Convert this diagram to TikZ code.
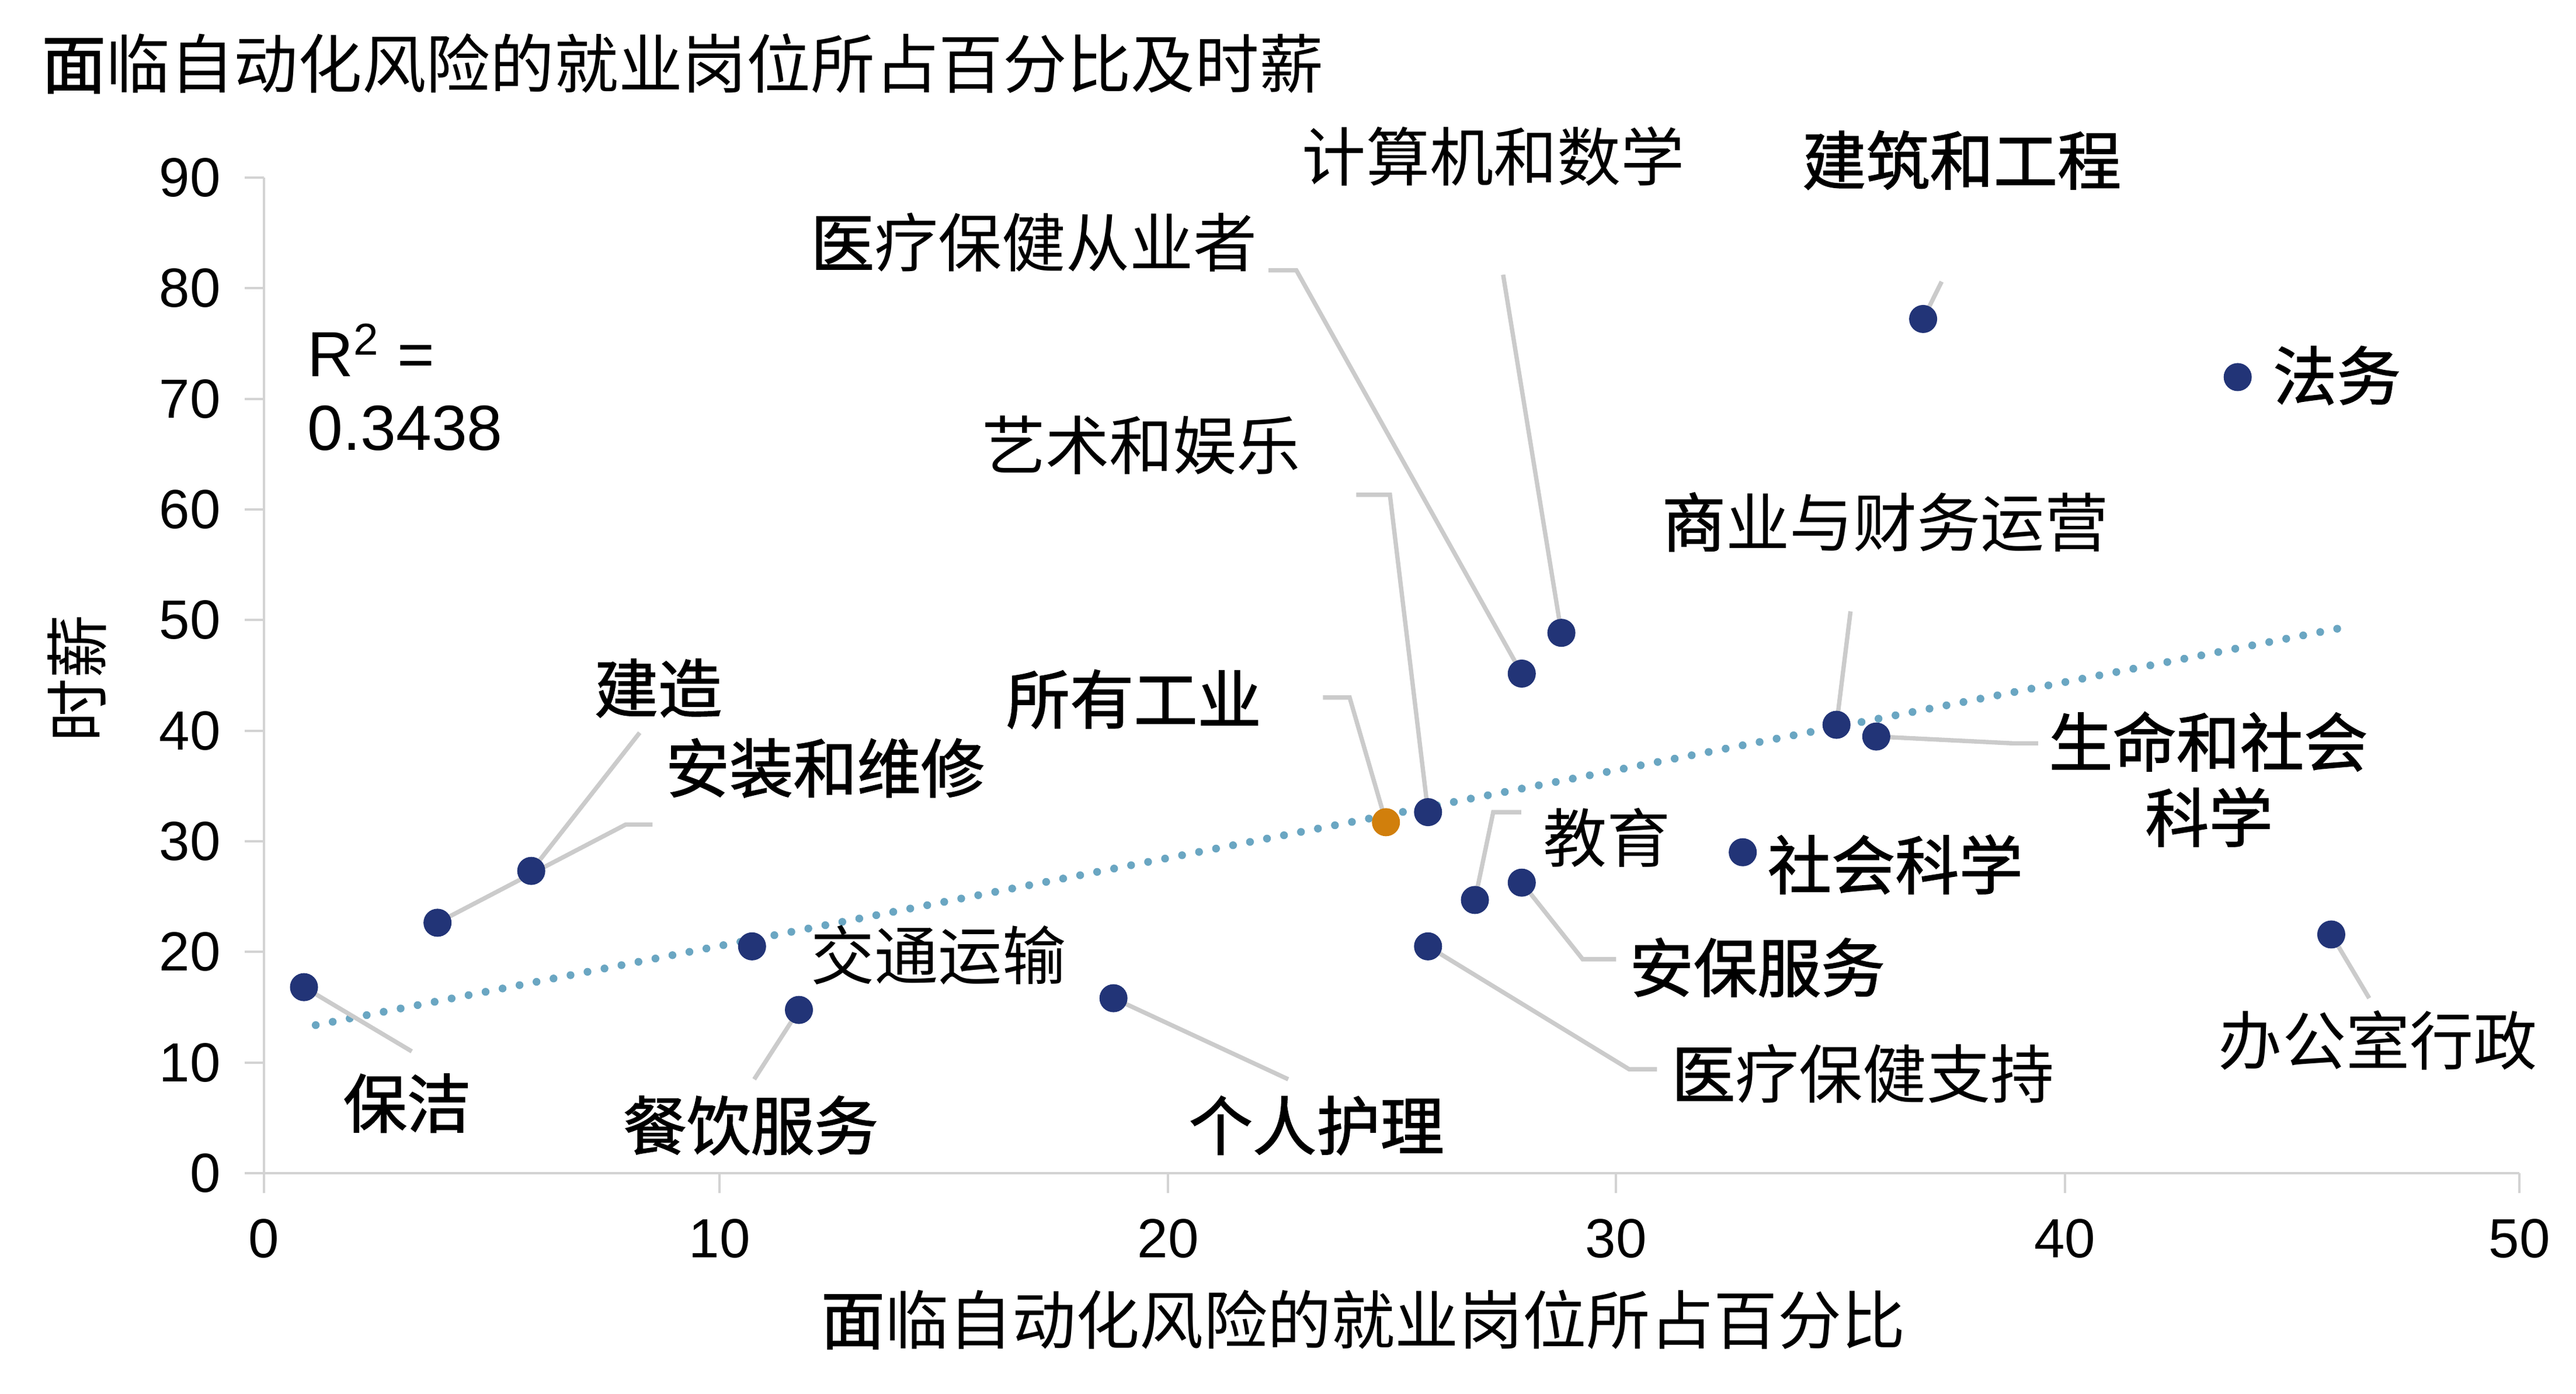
\documentclass[tikz,border=0pt]{standalone}
\usepackage{fontspec}
\setmainfont{Liberation Sans}
\newfontfamily\cjk{Noto Sans CJK SC}
\newfontfamily\cjkb[FakeBold=1.5]{Noto Sans CJK SC}
\definecolor{ptblue}{HTML}{223477}
\definecolor{ptorange}{HTML}{D17F0C}
\definecolor{trendblue}{HTML}{6AA6C2}
\definecolor{leadgray}{HTML}{CBCBCB}
\definecolor{axisgray}{HTML}{D3D3D3}
\tikzset{
  dotpt/.style={circle, fill=ptblue, minimum size=0.34cm, inner sep=0pt},
  dotall/.style={circle, fill=ptorange, minimum size=0.34cm, inner sep=0pt},
  lead/.style={draw=leadgray, line width=1.5pt},
  axisline/.style={draw=axisgray, line width=0.8pt},
  lab/.style={font=\cjk\fontsize{22}{26}\selectfont, inner sep=0pt},
  labb/.style={font=\cjkb\fontsize{22}{26}\selectfont, inner sep=0pt},
  tick/.style={font=\fontsize{19}{22}\selectfont, inner sep=0pt},
  trend/.style={draw=trendblue, line width=2.7pt, line cap=round, dash pattern=on 0pt off 5.97pt}
}
\begin{document}
\begin{tikzpicture}[x=0.02cm,y=-0.02cm]
\useasboundingbox (0,0) rectangle (1560.9,844.3);

% title
\node[lab, font=\cjk\fontsize{22.1}{26}\selectfont, anchor=west] (title) at (25,38.6) {{\cjkb 面}临自动化风险的就业岗位所占百分比及时薪};

% axes
\coordinate (yt) at (159.8,107.6);
\coordinate (o) at (159.8,710.6);
\coordinate (xr) at (1526.7,710.6);
\draw[axisline] (yt) -- (o) -- (xr);
\foreach \v [count=\i from 0] in {0,10,20,30,40,50,60,70,80,90}{
  \coordinate (yk\i) at (159.8,710.6-6.7*\v);
  \coordinate (yl\i) at (148.3,710.6-6.7*\v);
  \draw[axisline] (yl\i) -- (yk\i);
  \node[tick, anchor=east] (ytl\i) at (134,710.6-6.7*\v) {\v};
}
\foreach \xx/\v [count=\i] in {159.8/0,436.0/10,707.8/20,979.3/30,1251.1/40,1526.7/50}{
  \coordinate (xk\i) at (\xx,710.6);
  \coordinate (xb\i) at (\xx,722.5);
  \draw[axisline] (xk\i) -- (xb\i);
  \node[tick] (xtl\i) at (\xx,750.3) {\v};
}
\node[lab, rotate=90] (ylab) at (46.7,410.9) {时薪};
\node[lab] (xlab) at (826,799.3) {{\cjkb 面}临自动化风险的就业岗位所占百分比};

% R^2
\node[inner sep=0pt, anchor=west, font=\fontsize{22}{26}\selectfont] (r2a) at (186,212) {R\textsuperscript{2} =};
\node[inner sep=0pt, anchor=west, font=\fontsize{22}{26}\selectfont] (r2b) at (186,259.5) {0.3438};

% trend
\coordinate (t0) at (191.3,620.9);
\coordinate (t1) at (1419.3,380.2);
\draw[trend] (t0) -- (t1);

% data point centres
\coordinate (c1) at (184.2,597.9);
\coordinate (c2) at (265.1,558.9);
\coordinate (c3) at (321.9,527.5);
\coordinate (c4) at (455.7,573.2);
\coordinate (c5) at (484.1,611.7);
\coordinate (c6) at (674.7,604.6);
\coordinate (c7) at (839.8,498.0);
\coordinate (c8) at (865.3,491.9);
\coordinate (c9) at (922.1,408.0);
\coordinate (c10) at (946.1,383.3);
\coordinate (c11) at (1165.3,193.2);
\coordinate (c12) at (1355.9,228.4);
\coordinate (c13) at (1112.8,439.0);
\coordinate (c14) at (1136.9,446.1);
\coordinate (c15) at (1056.0,516.2);
\coordinate (c16) at (893.7,545.1);
\coordinate (c17) at (922.1,534.6);
\coordinate (c18) at (865.3,573.2);
\coordinate (c19) at (1412.6,566.0);

% leader ends
\coordinate (e1) at (249.5,636.8);
\coordinate (e2a) at (379.2,499.4); \coordinate (e2b) at (395.4,499.4);
\coordinate (e3) at (387.6,443.8);
\coordinate (e5) at (457.0,653.7);
\coordinate (e6) at (780.6,653.7);
\coordinate (e7a) at (817.8,422.5); \coordinate (e7b) at (801.6,422.5);
\coordinate (e8a) at (842.2,299.7); \coordinate (e8b) at (821.8,299.7);
\coordinate (e9a) at (785.5,163.7); \coordinate (e9b) at (768.6,163.7);
\coordinate (e10) at (910.8,166.4);
\coordinate (e11) at (1176.5,170.6);
\coordinate (e13) at (1121.3,370.3);
\coordinate (e14a) at (1219.1,450.2); \coordinate (e14b) at (1235.0,450.2);
\coordinate (e16a) at (904.8,491.9); \coordinate (e16b) at (921.8,491.9);
\coordinate (e17a) at (959.0,581.0); \coordinate (e17b) at (979.3,581.0);
\coordinate (e18a) at (987.1,647.6); \coordinate (e18b) at (1004.0,647.6);
\coordinate (e19) at (1435.6,604.6);

% leaders
\draw[lead] (c1) -- (e1);
\draw[lead] (c2) -- (e2a) -- (e2b);
\draw[lead] (c3) -- (e3);
\draw[lead] (c5) -- (e5);
\draw[lead] (c6) -- (e6);
\draw[lead] (c7) -- (e7a) -- (e7b);
\draw[lead] (c8) -- (e8a) -- (e8b);
\draw[lead] (c9) -- (e9a) -- (e9b);
\draw[lead] (c10) -- (e10);
\draw[lead] (c11) -- (e11);
\draw[lead] (c13) -- (e13);
\draw[lead] (c14) -- (e14a) -- (e14b);
\draw[lead] (c16) -- (e16a) -- (e16b);
\draw[lead] (c17) -- (e17a) -- (e17b);
\draw[lead] (c18) -- (e18a) -- (e18b);
\draw[lead] (c19) -- (e19);

% points
\foreach \i in {1,2,3,4,5,6,8,9,10,11,12,13,14,15,16,17,18,19}{
  \node[dotpt] (p\i) at (c\i) {};
}
\node[dotall] (p7) at (c7) {};

% labels
\node[labb] (l1) at (246.6,668.2) {保洁};
\node[labb] (l2) at (500.0,465.2) {安装和维修};
\node[labb] (l3) at (398.8,416.8) {建造};
\node[lab] (l4) at (568.6,578.4) {交通运输};
\node[labb] (l5) at (454.8,681.7) {餐饮服务};
\node[labb] (l6) at (797.7,681.7) {个人护理};
\node[labb] (l7) at (687.0,423.5) {所有工业};
\node[lab] (l8) at (691.5,269.5) {艺术和娱乐};
\node[lab] (l9) at (626.5,146.8) {{\cjkb 医}疗保健从业者};
\node[lab] (l10) at (905,94.6) {计算机和数学};
\node[labb] (l11) at (1188.7,97.0) {建筑和工程};
\node[labb] (l12) at (1416.0,227.4) {法务};
\node[lab] (l13) at (1142.3,316.3) {{\cjkb 商}业与财务运营};
\node[labb] (l14a) at (1338.1,449.2) {生命和社会};
\node[labb] (l14b) at (1338.5,494.9) {科学};
\node[labb] (l15) at (1148.4,523.6) {社会科学};
\node[lab] (l16) at (973.7,507.4) {教育};
\node[labb] (l17) at (1064.8,586.0) {安保服务};
\node[lab] (l18) at (1128.8,650.3) {{\cjkb 医}疗保健支持};
\node[lab] (l19) at (1440.9,630.0) {办公室行政};
\end{tikzpicture}
\end{document}
